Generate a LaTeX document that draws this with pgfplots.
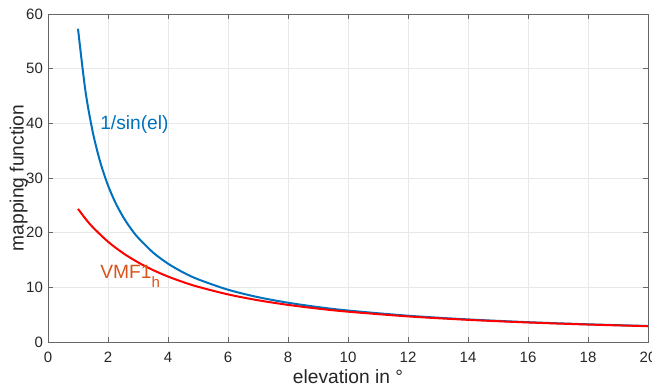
\documentclass[border=0pt]{standalone}
\usepackage{pgfplots}
\pgfplotsset{compat=1.18}
\usepackage{fontspec}
\setmainfont{Liberation Sans}
\definecolor{mblue}{rgb}{0,0.447,0.741}
\definecolor{morange}{rgb}{0.85,0.325,0.098}
\definecolor{axgray}{rgb}{0.15,0.15,0.15}
\begin{document}
\begin{tikzpicture}
\begin{axis}[
  scale only axis, width=300pt, height=164pt,
  xmin=0, xmax=20, ymin=0, ymax=60,
  xtick={0,2,...,20}, ytick={0,10,...,60},
  grid=major, major grid style={color=black!9, line width=0.3pt},
  axis line style={color=axgray!70, line width=0.4pt},
  tick style={color=axgray!70, line width=0.4pt},
  tick align=inside, major tick length=2.5pt,
  /pgf/number format/assume math mode=true,
  ticklabel style={font=\fontsize{7.5}{9}\selectfont, color=axgray},
  xticklabel style={yshift=-1.5pt},
  yticklabel style={xshift=1pt},
  label style={font=\fontsize{9.6}{11}\selectfont, color=axgray},
  xlabel={elevation in °}, ylabel={mapping function},
  xlabel style={at={(axis description cs:0.5,0)}, anchor=center, yshift=-17.5pt},
  ylabel style={at={(axis description cs:-0.049,0.5)}, anchor=center},
  clip=false,
]
\coordinate (ll) at (rel axis cs:0,0);
\coordinate (ur) at (rel axis cs:1,1);
\addplot[color=mblue, line width=1pt, smooth] coordinates {
(1,57.299) (1.25,45.840) (1.5,38.202) (1.75,32.746) (2,28.654) (2.25,25.471)
(2.5,22.926) (2.75,20.843) (3,19.107) (3.5,16.380) (4,14.336) (4.5,12.745)
(5,11.474) (6,9.567) (7,8.206) (8,7.185) (9,6.392) (10,5.759) (12,4.810)
(14,4.134) (16,3.628) (18,3.236) (20,2.924)};
\addplot[color=red, line width=1pt, smooth] coordinates {
(1,24.35) (1.25,22.54) (1.5,20.96) (2,18.35) (2.5,16.27) (3,14.57) (3.5,13.16)
(4,11.975) (4.5,10.97) (5,10.105) (6,8.710) (7,7.637) (8,6.791) (9,6.108)
(10,5.548) (12,4.685) (14,4.054) (16,3.574) (18,3.199) (20,2.897)};
\node[anchor=west, inner sep=0pt, text=mblue, font=\fontsize{9.6}{11}\selectfont] at (axis cs:1.73,39.7) {1/sin(el)};
\node[anchor=west, inner sep=0pt, text=morange, font=\fontsize{9.6}{11}\selectfont] at (axis cs:1.73,12.0) {VMF1\raisebox{-0.85ex}{\fontsize{7.5}{8}\selectfont h}};
\end{axis}
\pgfresetboundingbox
\path[use as bounding box] ([xshift=-24pt,yshift=-22.5pt]ll) rectangle ([xshift=2pt,yshift=7pt]ur);
\end{tikzpicture}
\end{document}
